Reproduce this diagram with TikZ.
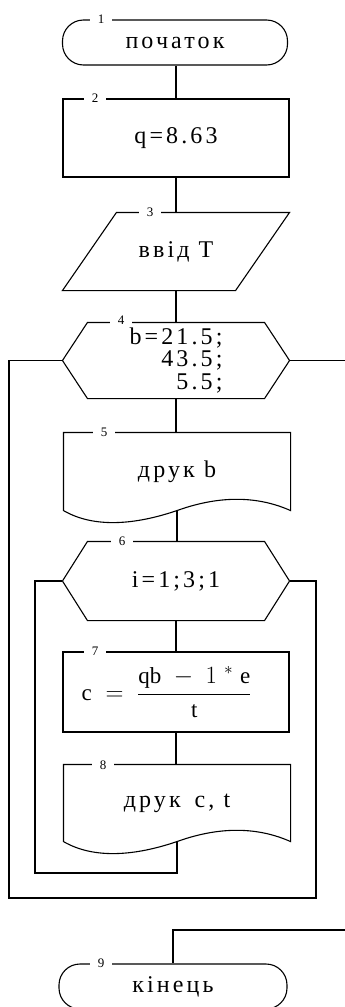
\documentclass[tikz,border=0pt]{standalone}
\usepackage{fontspec}
\setmainfont{Liberation Serif}
\usetikzlibrary{calc}
\newcommand\blocktext{\fontsize{24}{22.5}\selectfont\addfontfeature{LetterSpace=13}}
\newcommand\formulatext{\fontsize{23}{24}\selectfont}
\newcommand\numtext{\fontsize{13}{13}\selectfont}

\begin{document}
\begin{tikzpicture}[x=1pt,y=-1pt,
  blk/.style={rectangle, inner sep=0pt, minimum width=226pt, font=\blocktext, align=center, line width=1.1pt},
  numlbl/.style={fill=white, inner sep=1pt, minimum width=22pt, font=\numtext},
  outline/.style={draw=black, line width=1.1pt, line join=miter},
  conn/.style={draw=black, line width=1.1pt}]
\useasboundingbox (0,0) rectangle (345,1007);

% 1: start
\node[blk, draw, rounded corners=21pt, minimum width=225pt, minimum height=45pt] (t1) at (175,42.5) {початок};

% 2: assignment
\node[blk, draw, minimum height=78pt] (p2) at (176,138) {q=8.63};

% 3: input
\node[blk, minimum height=77pt] (io3) at (176,251.5) {ввід T};
\draw[outline] ([xshift=54pt]io3.north west) -- (io3.north east)
  -- ([xshift=-54pt]io3.south east) -- (io3.south west) -- cycle;

% 4: outer loop header
\node[blk, minimum height=75pt, align=right] (h4) at (176,360.5) {b=21.5;\\43.5;\\5.5;};
\draw[outline] ([xshift=25pt]h4.north west) -- ([xshift=-25pt]h4.north east) -- (h4.east)
  -- ([xshift=-25pt]h4.south east) -- ([xshift=25pt]h4.south west) -- (h4.west) -- cycle;

% 5: print b
\node[blk, minimum height=77pt] (d5) at (177,471.5) {друк b};
\draw[outline] (d5.south west) -- (d5.north west) -- (d5.north east) -- (d5.south east)
  .. controls +(-36,-16) and +(39,-14) .. (d5.south)
  .. controls +(-41,14) and +(31,18) .. (d5.south west) -- cycle;

% 6: inner loop header
\node[blk, minimum height=78pt] (h6) at (176,581) {i=1;3;1};
\draw[outline] ([xshift=25pt]h6.north west) -- ([xshift=-25pt]h6.north east) -- (h6.east)
  -- ([xshift=-25pt]h6.south east) -- ([xshift=25pt]h6.south west) -- (h6.west) -- cycle;

% 7: formula
\node[blk, draw, minimum height=80pt, font=\formulatext] (p7) at (176,692)
  {$\mathrm{c}\;=\;\displaystyle\frac{\mathrm{qb}\;-\;1\;{}^{*}\;\mathrm{e}}{\mathrm{t}}$\hspace{19pt}};

% 8: print c, t
\node[blk, minimum height=76pt] (d8) at (177,803) {друк\hspace{14pt}c, t};
\draw[outline] (d8.south west) -- (d8.north west) -- (d8.north east) -- (d8.south east)
  .. controls +(-36,-16) and +(39,-14) .. (d8.south)
  .. controls +(-41,14) and +(31,18) .. (d8.south west) -- cycle;

% 9: end
\node[blk, draw, rounded corners=21pt, minimum width=228pt, minimum height=45pt] (t9) at (173,986.5) {кінець};

% connectors
\draw[conn] (p2.north |- t1.south) -- (p2.north);
\draw[conn] (p2.south) -- (io3.north);
\draw[conn] (io3.south) -- (h4.north);
\draw[conn] (h4.south) -- (h4.south |- d5.north);
\draw[conn] (d5.south) -- (d5.south |- h6.north);
\draw[conn] (h6.south) -- (p7.north);
\draw[conn] (p7.south) -- (p7.south |- d8.north);

% inner loop return
\coordinate (ilb) at (35,873);
\draw[conn] (d8.south) |- (ilb) |- (h6.west);

% outer loop return
\coordinate (olr) at (316,898);
\coordinate (oll) at (9,898);
\draw[conn] (h6.east) -| (olr) -- (oll) |- (h4.west);

% loop exit and entry to the end block
\coordinate (ex4) at (345,360.5);
\draw[conn] (h4.east) -- (ex4);
\coordinate (en9) at (345,930);
\draw[conn] (en9) -| (t9.north);

% block numbers
\node[numlbl] (n1) at (101,19) {1};
\node[numlbl] (n2) at (95,98) {2};
\node[numlbl] (n3) at (150,212) {3};
\node[numlbl] (n4) at (121,320) {4};
\node[numlbl] (n5) at (104,432) {5};
\node[numlbl] (n6) at (122,541) {6};
\node[numlbl] (n7) at (95,651) {7};
\node[numlbl] (n8) at (103,765) {8};
\node[numlbl] (n9) at (101,963) {9};
\end{tikzpicture}
\end{document}
